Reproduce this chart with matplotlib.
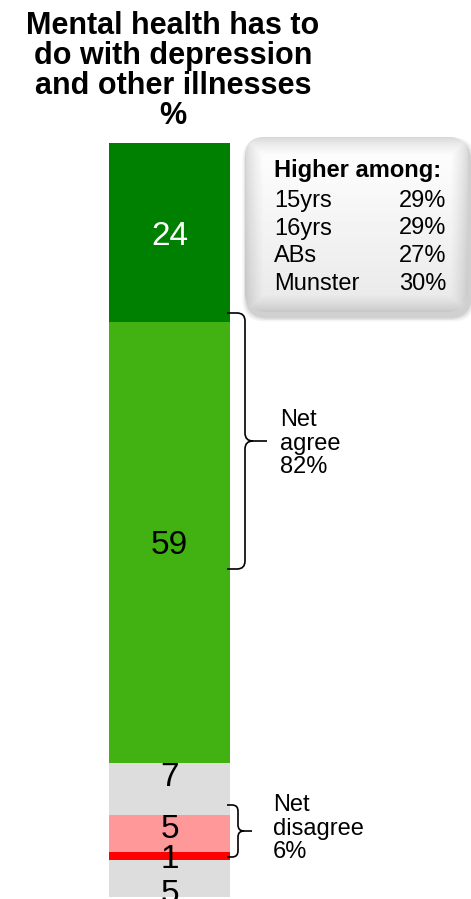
import numpy as np
import matplotlib
matplotlib.use("Agg")
import matplotlib.pyplot as plt
from matplotlib.patches import FancyBboxPatch, PathPatch
from matplotlib.path import Path

plt.rcParams["font.family"] = ["Liberation Sans", "DejaVu Sans"]

# data
segments = ["Strongly agree", "Agree", "Neither", "Disagree", "Strongly disagree", "Don't know"]
values = [24, 59, 7, 5, 1, 5]
colors = ["#008000", "#41B212", "#DDDDDD", "#FF9999", "#FF0000", "#DDDDDD"]
label_colors = ["white", "black", "black", "black", "black", "black"]
label_nudge = [0, 0, -2, -1, 0, 1.7]  # labels of the thin segments sit a bit off centre

title = "Mental health has to\ndo with depression\nand other illnesses\n%"
higher_groups = ["15yrs", "16yrs", "ABs", "Munster"]
higher_values = [29, 29, 27, 30]
net_agree = 82
net_disagree = 6

W, H = 471, 899
fig = plt.figure(figsize=(W / 100, H / 100), dpi=100)

# bar axes: x in pixels, y in percent (0 at top of the bar)
ax = fig.add_axes([0, 0, 1, 1])
unit, top = 7.465, 143
ax.set_xlim(0, W)
ax.set_ylim((H - top) / unit, -top / unit)
ax.axis("off")

bottoms = np.concatenate([[0], np.cumsum(values)[:-1]])
bar_x = 169.5
ax.bar([bar_x] * len(values), values, width=121, bottom=bottoms, color=colors, linewidth=0)
for v, b, c, n in zip(values, bottoms, label_colors, label_nudge):
    ax.text(bar_x, b + v / 2 + n, str(v), ha="center", va="center_baseline",
            fontsize=24, color=c)

# overlay axes in pixel coords for the annotations
ov = fig.add_axes([0, 0, 1, 1])
ov.set_xlim(0, W)
ov.set_ylim(H, 0)
ov.axis("off")
ov.patch.set_alpha(0)

ov.text(173, 11, title, ha="center", va="top", fontsize=22, fontweight="bold",
        linespacing=1.0)

# callout box with shadow and soft gradient
bx, by, bw, bh = 245, 137, 223, 175
for k, a in zip([9, 6, 3], [0.08, 0.12, 0.18]):
    ov.add_patch(FancyBboxPatch((bx + 2 - k / 2, by + 5 - k / 2), bw + k, bh + k,
                                boxstyle="round,pad=0,rounding_size=22",
                                fc="#777777", ec="none", alpha=a, zorder=1))
box = FancyBboxPatch((bx, by), bw, bh, boxstyle="round,pad=0,rounding_size=20",
                     fc="#E4E4E4", ec="none", zorder=1.5)
ov.add_patch(box)
gx, gy = np.meshgrid(np.arange(bw), np.arange(bh))
edge = np.minimum.reduce([gx, bw - gx, gy, bh - gy]).astype(float)
shade = (1.0 - 0.09 * gy / bh) * (0.84 + 0.16 * np.clip(edge / 18, 0, 1) ** 0.7)
img = ov.imshow(shade, cmap="gray", vmin=0, vmax=1, extent=(bx, bx + bw, by + bh, by),
                interpolation="bilinear", aspect="auto", zorder=2)
img.set_clip_path(box)
ov.set_xlim(0, W)
ov.set_ylim(H, 0)

ov.text(274, 177, "Higher among:", fontsize=17, fontweight="bold", va="baseline", zorder=3)
for i, (g, v) in enumerate(zip(higher_groups, higher_values)):
    yb = 207 + i * 27.5
    ov.text(274, yb, g, fontsize=17, va="baseline", zorder=3)
    ov.text(446, yb, f"{v}%", fontsize=17, va="baseline", ha="right", zorder=3)


def brace(x0, xv, tip, y0, y1, r):
    ym = (y0 + y1) / 2
    verts = [(x0, y0), (xv - r, y0), (xv, y0), (xv, y0 + r), (xv, ym - r),
             (xv, ym), (xv + r, ym), (tip, ym),
             (xv + r, ym), (xv, ym), (xv, ym + r), (xv, y1 - r),
             (xv, y1), (xv - r, y1), (x0, y1)]
    codes = [Path.MOVETO, Path.LINETO, Path.CURVE3, Path.CURVE3, Path.LINETO,
             Path.CURVE3, Path.CURVE3, Path.LINETO,
             Path.MOVETO, Path.CURVE3, Path.CURVE3, Path.LINETO,
             Path.CURVE3, Path.CURVE3, Path.LINETO]
    ov.add_patch(PathPatch(Path(verts, codes), fc="none", ec="black", lw=1.2, zorder=3))


brace(227, 245, 267, 313, 569, 8)
ov.text(280, 409, f"Net\nagree\n{net_agree}%", fontsize=17, va="top", linespacing=1.1)

brace(227, 238, 252, 805, 857, 6)
ov.text(273, 794, f"Net\ndisagree\n{net_disagree}%", fontsize=17, va="top", linespacing=1.1)

fig.savefig("out.png", dpi=100)
